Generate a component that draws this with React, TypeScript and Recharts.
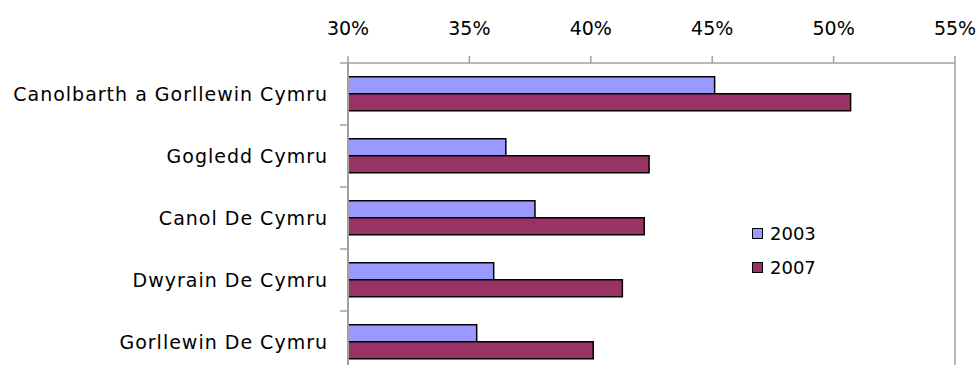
import React from 'react';
import { BarChart, Bar, XAxis, YAxis, Legend, ReferenceLine } from 'recharts';

const categories = [
  'Canolbarth a Gorllewin Cymru',
  'Gogledd Cymru',
  'Canol De Cymru',
  'Dwyrain De Cymru',
  'Gorllewin De Cymru',
];
const values2003 = [0.451, 0.365, 0.377, 0.36, 0.353];
const values2007 = [0.507, 0.424, 0.422, 0.413, 0.401];
const xTicks = [0.3, 0.35, 0.4, 0.45, 0.5, 0.55];
const seriesNames = ['2003', '2007'];
const seriesColors = ['#9999FF', '#993366'];

const data = categories.map((name, i) => ({
  name,
  v2003: values2003[i],
  v2007: values2007[i],
}));

const FONT = '"DejaVu Sans", Verdana, sans-serif';
const AXIS_GREY = '#A0A0A0';
const TICK_SIZE = 8;
const TICK_MARGIN = 12;

const YTick = (props: any) => {
  const { x, y, payload, index, visibleTicksCount } = props;
  const half = payload && payload.offset ? payload.offset : 31;
  const x1 = x + TICK_MARGIN;
  const x2 = x + TICK_MARGIN + TICK_SIZE;
  const isLast = index === (visibleTicksCount ?? categories.length) - 1;
  return (
    <g>
      <line x1={x1} x2={x2} y1={y - half} y2={y - half} stroke={AXIS_GREY} strokeWidth={1.5} />
      {isLast && <line x1={x1} x2={x2} y1={y + half} y2={y + half} stroke={AXIS_GREY} strokeWidth={1.5} />}
      <text
        x={x}
        y={y}
        dy="0.35em"
        textAnchor="end"
        fill="#000"
        fontSize={19}
        letterSpacing={1}
        fontFamily={FONT}
      >
        {payload.value}
      </text>
    </g>
  );
};

const renderLegend = (props: any) => {
  const { payload } = props;
  return (
    <div style={{ fontFamily: FONT, fontSize: 18, color: '#000' }}>
      {(payload || []).map((entry: any, i: number) => (
        <div key={i} style={{ display: 'flex', alignItems: 'center', height: 33.5 }}>
          <span
            style={{
              display: 'inline-block',
              width: 9,
              height: 9,
              background: entry.color,
              border: '1px solid #000',
              marginRight: 7,
            }}
          />
          <span>{entry.value}</span>
        </div>
      ))}
    </div>
  );
};

export default function App() {
  return (
    <div
      style={{
        position: 'absolute',
        left: 0,
        top: 0,
        width: 976,
        height: 365,
        overflow: 'hidden',
        background: '#fff',
      }}
    >
      <BarChart
        width={976}
        height={373}
        data={data}
        layout="vertical"
        margin={{ top: 3, right: 21, left: 0, bottom: 0 }}
        barCategoryGap="22%"
        barGap={0}
      >
        <XAxis
          type="number"
          orientation="top"
          domain={[0.3, 0.55]}
          ticks={xTicks}
          allowDataOverflow
          height={60}
          tickSize={7}
          tickMargin={21}
          tickFormatter={(v: number) => `${Math.round(v * 100)}%`}
          stroke={AXIS_GREY}
          axisLine={{ stroke: AXIS_GREY, strokeWidth: 1.5 }}
          tickLine={{ stroke: AXIS_GREY, strokeWidth: 1.5 }}
          tick={{ fill: '#000', fontSize: 19, fontFamily: FONT }}
        />
        <YAxis
          type="category"
          dataKey="name"
          width={348}
          tickSize={TICK_SIZE}
          tickMargin={TICK_MARGIN}
          tickLine={false}
          axisLine={{ stroke: AXIS_GREY, strokeWidth: 2 }}
          tick={<YTick />}
          interval={0}
        />
        <ReferenceLine x={0.55} stroke={AXIS_GREY} strokeWidth={1.5} />
        <Legend
          layout="vertical"
          align="center"
          verticalAlign="middle"
          content={renderLegend}
          wrapperStyle={{ position: 'absolute', left: 752, top: 217, width: 100 }}
        />
        <Bar
          dataKey="v2003"
          name={seriesNames[0]}
          fill={seriesColors[0]}
          stroke="#000"
          strokeWidth={1.5}
          isAnimationActive={false}
        />
        <Bar
          dataKey="v2007"
          name={seriesNames[1]}
          fill={seriesColors[1]}
          stroke="#000"
          strokeWidth={1.5}
          isAnimationActive={false}
        />
      </BarChart>
    </div>
  );
}
